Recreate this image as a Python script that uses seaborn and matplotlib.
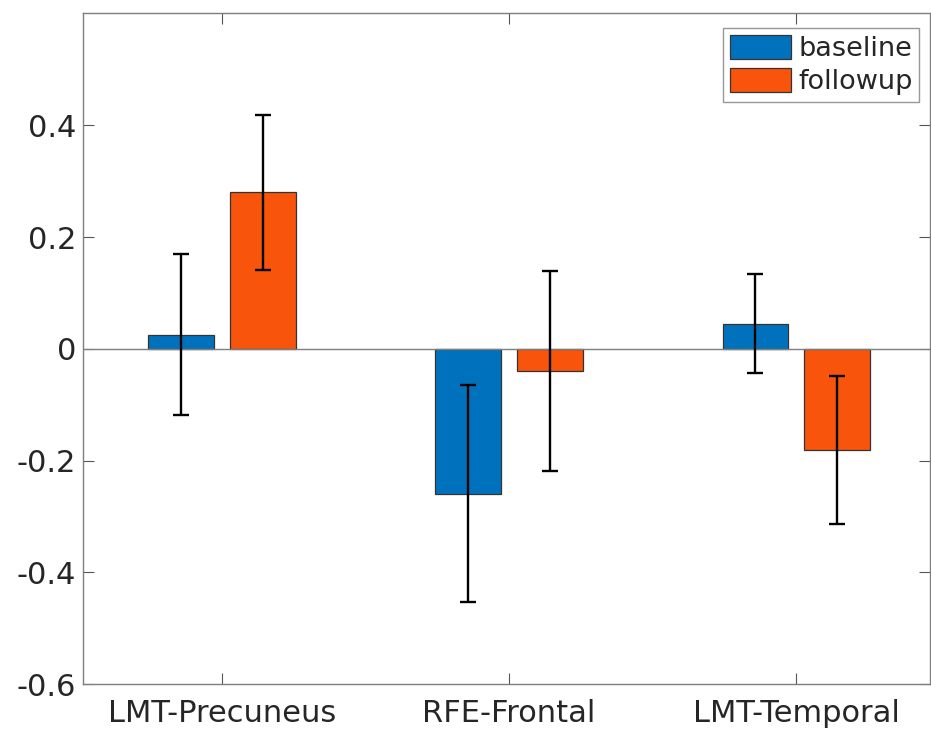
import pandas as pd
import matplotlib
matplotlib.use("Agg")
import matplotlib.pyplot as plt
import seaborn as sns

regions = ["LMT-Precuneus", "RFE-Frontal", "LMT-Temporal"]
sessions = ["baseline", "followup"]
baseline_mean = [0.025, -0.259, 0.045]
followup_mean = [0.280, -0.040, -0.181]
baseline_err = [0.144, 0.194, 0.089]
followup_err = [0.139, 0.179, 0.132]
session_colors = ["#0072BD", "#F9540B"]
yticks = [-0.6, -0.4, -0.2, 0, 0.2, 0.4]


def build_frame():
    """Long-format table of means and errors."""
    rows = []
    for i, region in enumerate(regions):
        rows.append(
            {"region": region, "session": "baseline",
             "value": baseline_mean[i], "err": baseline_err[i]}
        )
        rows.append(
            {"region": region, "session": "followup",
             "value": followup_mean[i], "err": followup_err[i]}
        )
    return pd.DataFrame(rows)


sns.set_style("white")
plt.rcParams["font.family"] = ["DejaVu Sans"]
plt.rcParams["axes.unicode_minus"] = False

df = build_frame()

fig = plt.figure(figsize=(9.31, 7.29), dpi=100)
ax = fig.add_axes([0.0892, 0.0617, 0.91, 0.9203])

sns.barplot(
    data=df,
    x="region",
    y="value",
    hue="session",
    hue_order=sessions,
    palette=session_colors,
    width=0.57,
    gap=0.2,
    errorbar=None,
    edgecolor="#333333",
    linewidth=0.9,
    saturation=1,
    ax=ax,
    zorder=3,
)

# error bars at the centres of the drawn bars
for container, sess in zip(ax.containers, sessions):
    sub = df[df["session"] == sess]
    xs = [p.get_x() + p.get_width() / 2 for p in container.patches]
    ax.errorbar(
        xs,
        sub["value"].values,
        yerr=sub["err"].values,
        fmt="none",
        ecolor="black",
        elinewidth=1.7,
        capsize=6,
        capthick=1.7,
        zorder=5,
    )

ax.axhline(0, color="#7f7f7f", linewidth=1.0, zorder=4)

ax.set_xlim(-0.484, 2.467)
ax.set_ylim(-0.6, 0.601)
ax.set_yticks(yticks)
ax.set_yticklabels(["-0.6", "-0.4", "-0.2", "0", "0.2", "0.4"])
ax.set_xlabel("")
ax.set_ylabel("")

ax.tick_params(
    axis="both",
    direction="in",
    length=8,
    width=0.8,
    color="#555555",
    labelsize=22,
    labelcolor="#262626",
    top=True,
    right=True,
    bottom=True,
    left=True,
    pad=5,
)
ax.tick_params(axis="x", pad=11)
for side in ["left", "right", "top", "bottom"]:
    ax.spines[side].set_visible(True)
    ax.spines[side].set_color("#7f7f7f")
    ax.spines[side].set_linewidth(1.0)

leg = ax.legend(
    loc="upper right",
    bbox_to_anchor=(0.987, 0.9776),
    fontsize=19.5,
    frameon=True,
    fancybox=False,
    edgecolor="#7f7f7f",
    handlelength=2.25,
    handleheight=1.0,
    handletextpad=0.26,
    labelspacing=0.2,
    borderpad=0.25,
    borderaxespad=0,
)
leg.get_frame().set_linewidth(1.0)

fig.savefig("out.png", dpi=100)
